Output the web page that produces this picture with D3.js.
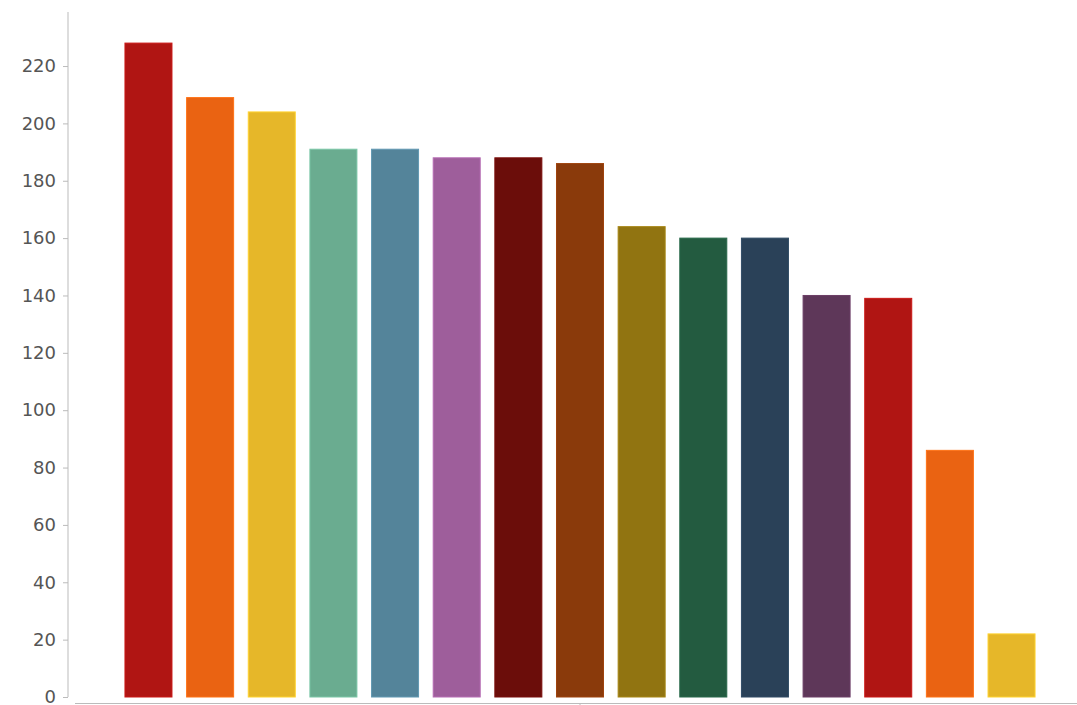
<html>
<head>
<script src="https://d3js.org/d3.v7.min.js"></script>
<style>body{margin:0;background:#fff;font-family:"DejaVu Sans",sans-serif;}</style>
</head>
<body>
<svg id="chart" width="1077" height="705"></svg>
<script>
const categories = d3.range(1, 16).map(d => 'Item ' + d);
const values = [228, 209, 204, 191, 191, 188, 188, 186, 164, 160, 160, 140, 139, 86, 22];
const colors = ['#b01513', '#ea6312', '#e6b729', '#6aac90', '#54849a', '#9e5e9b', '#6b0d0a', '#8a3a0b', '#917411', '#235b40', '#2a4158', '#5e3759', '#b01513', '#ea6312', '#e6b729'];
const yTicks = d3.range(0, 221, 20);

const svg = d3.select('#chart');
const x = d3.scaleBand().domain(categories).range([118.8, 1041.2]).paddingInner(0.2375).paddingOuter(0.1);
const y = d3.scaleLinear().domain([0, 20 * 685 / 57.36]).range([697, 12]);

const yAxis = svg.append('g').attr('transform', 'translate(68,0)')
  .call(d3.axisLeft(y).tickValues(yTicks).tickSize(5).tickPadding(7));
yAxis.select('.domain').attr('stroke', '#bbb').attr('d', 'M0,12V697');
yAxis.selectAll('.tick line').attr('stroke', '#bbb');
yAxis.selectAll('.tick text').attr('fill', '#555').style('font-size', '18px').style('font-family', 'DejaVu Sans');

svg.append('line').attr('x1', 75).attr('x2', 1077).attr('y1', 703.5).attr('y2', 703.5).attr('stroke', '#bbb');
svg.append('line').attr('x1', 580).attr('x2', 580).attr('y1', 703).attr('y2', 707).attr('stroke', '#bbb');

svg.selectAll('rect.bar').data(values).enter().append('rect')
  .attr('class', 'bar')
  .attr('x', (d, i) => x(categories[i]))
  .attr('width', x.bandwidth())
  .attr('y', d => y(d))
  .attr('height', d => y(0) - y(d))
  .attr('fill', (d, i) => colors[i])
  .attr('stroke', (d, i) => d3.color(colors[i]).brighter(0.4))
  .attr('stroke-width', 1);
</script>
</body>
</html>
